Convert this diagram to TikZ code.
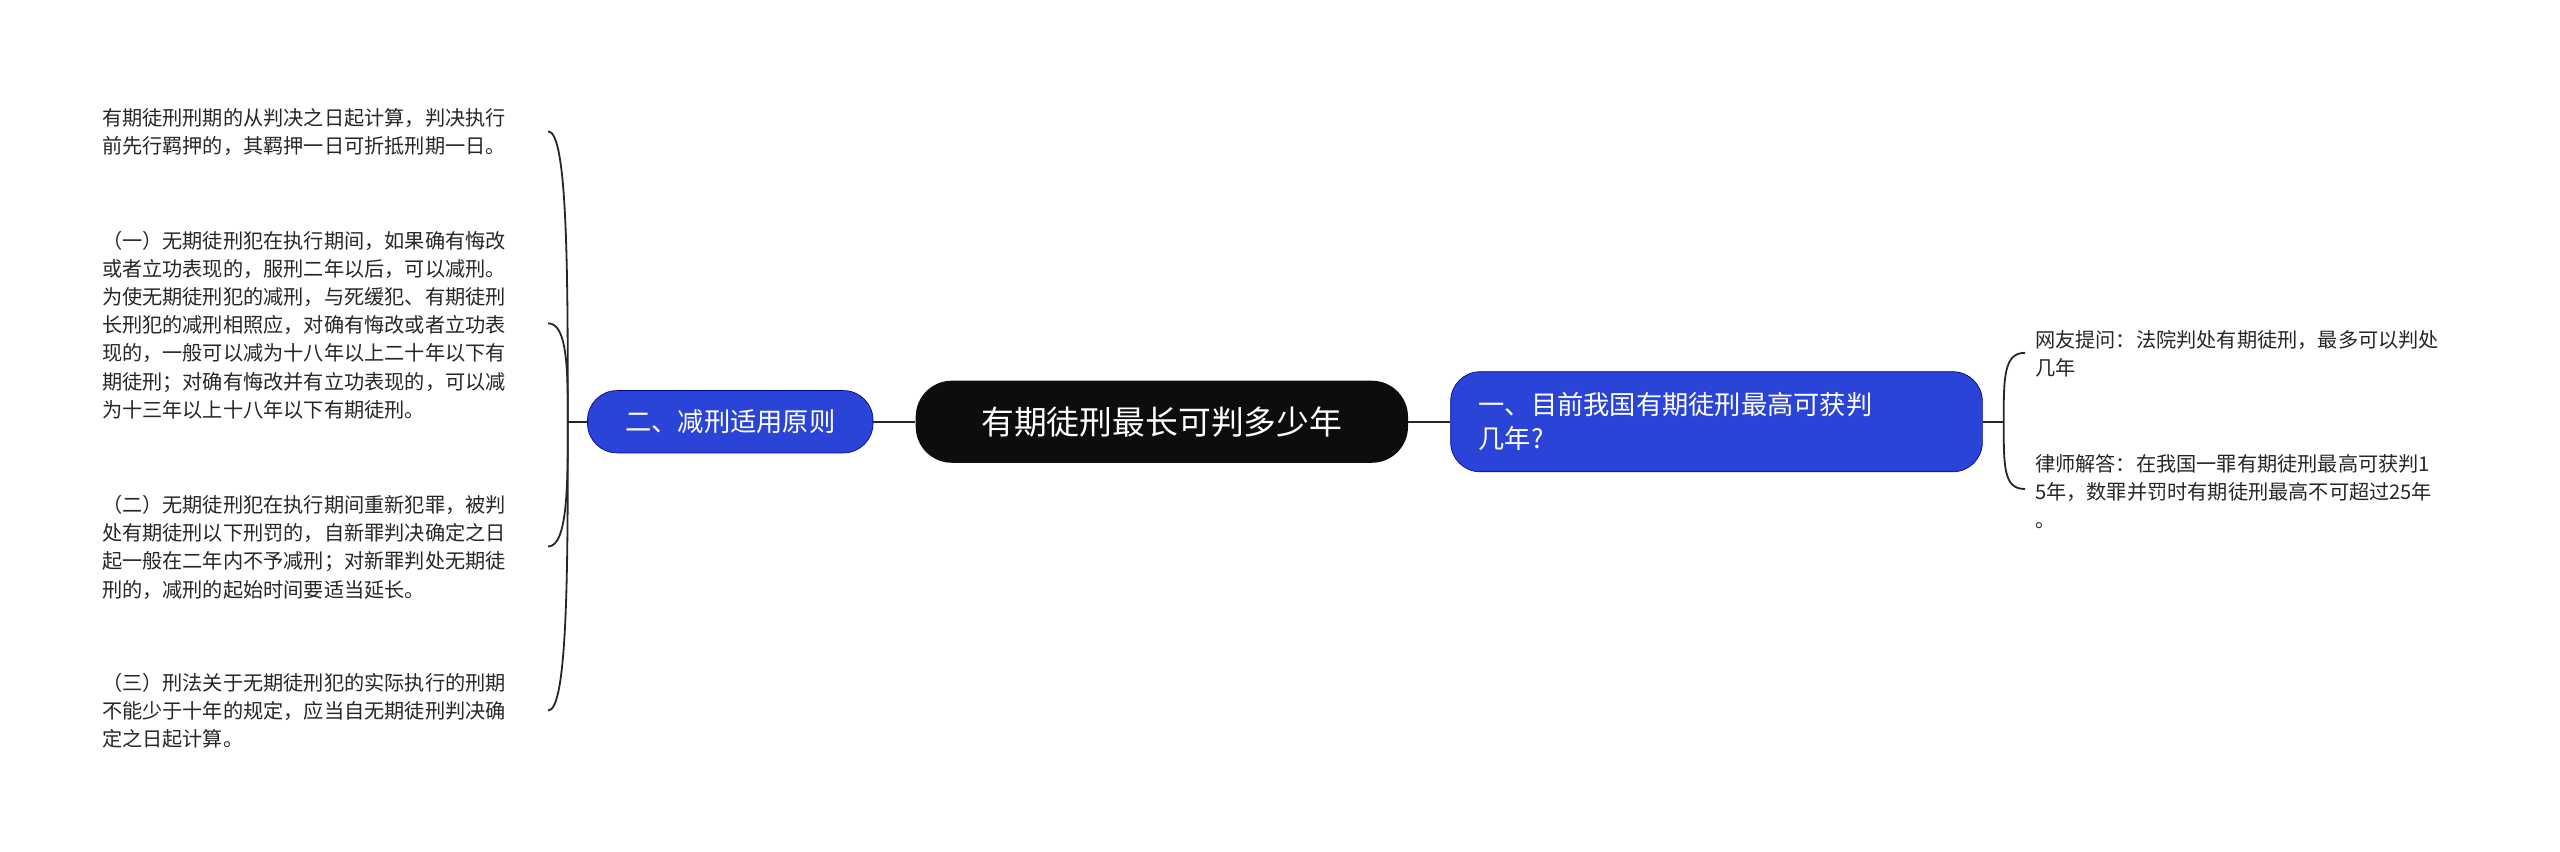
\documentclass[tikz,border=0pt]{standalone}
\usepackage{fontspec}
\setmainfont{Noto Sans CJK SC}
\begin{document}
\begin{tikzpicture}[x=1pt,y=-1pt,
  txt/.style={anchor=west,align=left,inner sep=0pt,font=\fontsize{12.3}{17.2}\selectfont,text=black!85},
  blue/.style={rounded corners=18pt,fill=blue!75!cyan!60!black,draw=blue!60!black,text=white,font=\fontsize{16}{21}\selectfont,align=left,inner sep=0pt},
  conn/.style={draw=black!85,line width=1.1pt}]
\useasboundingbox (0,0) rectangle (1560,519);
\definecolor{nb}{HTML}{2A44D8}
\node[blue,fill=nb,minimum width=300pt,minimum height=50pt,fill=black!95,draw=none,rounded corners=22pt,font=\fontsize{20}{24}\selectfont,align=center] (c) at (708,257) {有期徒刑最长可判多少年};
\node[blue,fill=nb,minimum width=174pt,minimum height=38pt,align=center] (l) at (445,257) {二、减刑适用原则};
\node[blue,fill=nb,minimum width=324pt,minimum height=61pt,text width=290pt] (r) at (1046,257) {一、目前我国有期徒刑最高可获判\\几年?};
\draw[conn] (l.east) -- (c.west);
\draw[conn] (c.east) -- (r.west);
% left texts
\node[txt] (t1) at (62,80.5) {有期徒刑刑期的从判决之日起计算，判决执行\\前先行羁押的，其羁押一日可折抵刑期一日。};
\node[txt] (t2) at (62,198) {（一）无期徒刑犯在执行期间，如果确有悔改\\或者立功表现的，服刑二年以后，可以减刑。\\为使无期徒刑犯的减刑，与死缓犯、有期徒刑\\长刑犯的减刑相照应，对确有悔改或者立功表\\现的，一般可以减为十八年以上二十年以下有\\期徒刑；对确有悔改并有立功表现的，可以减\\为十三年以上十八年以下有期徒刑。};
\node[txt] (t3) at (62,333.5) {（二）无期徒刑犯在执行期间重新犯罪，被判\\处有期徒刑以下刑罚的，自新罪判决确定之日\\起一般在二年内不予减刑；对新罪判处无期徒\\刑的，减刑的起始时间要适当延长。};
\node[txt] (t4) at (62,433) {（三）刑法关于无期徒刑犯的实际执行的刑期\\不能少于十年的规定，应当自无期徒刑判决确\\定之日起计算。};
\coordinate (lj) at (346,257);
\draw[conn] (l.west) -- (lj);
\foreach \t/\y in {t1/80,t2/197,t3/333,t4/433}{
  \coordinate (e\t) at (334,\y);
  \draw[conn] (lj) .. controls (346,{(\y+257)/2}) and (346,\y) .. (e\t);
}
% right texts
\node[txt] (r1) at (1240,215.5) {网友提问：法院判处有期徒刑，最多可以判处\\几年};
\node[txt] (r2) at (1240,299.5) {律师解答：在我国一罪有期徒刑最高可获判1\\5年，数罪并罚时有期徒刑最高不可超过25年\\。};
\coordinate (rj) at (1221,257);
\draw[conn] (r.east) -- (rj);
\coordinate (er1) at (1234,215);
\coordinate (er2) at (1234,298);
\draw[conn] (rj) .. controls (1221,230) and (1221,215) .. (er1);
\draw[conn] (rj) .. controls (1221,285) and (1221,298) .. (er2);
\end{tikzpicture}
\end{document}
